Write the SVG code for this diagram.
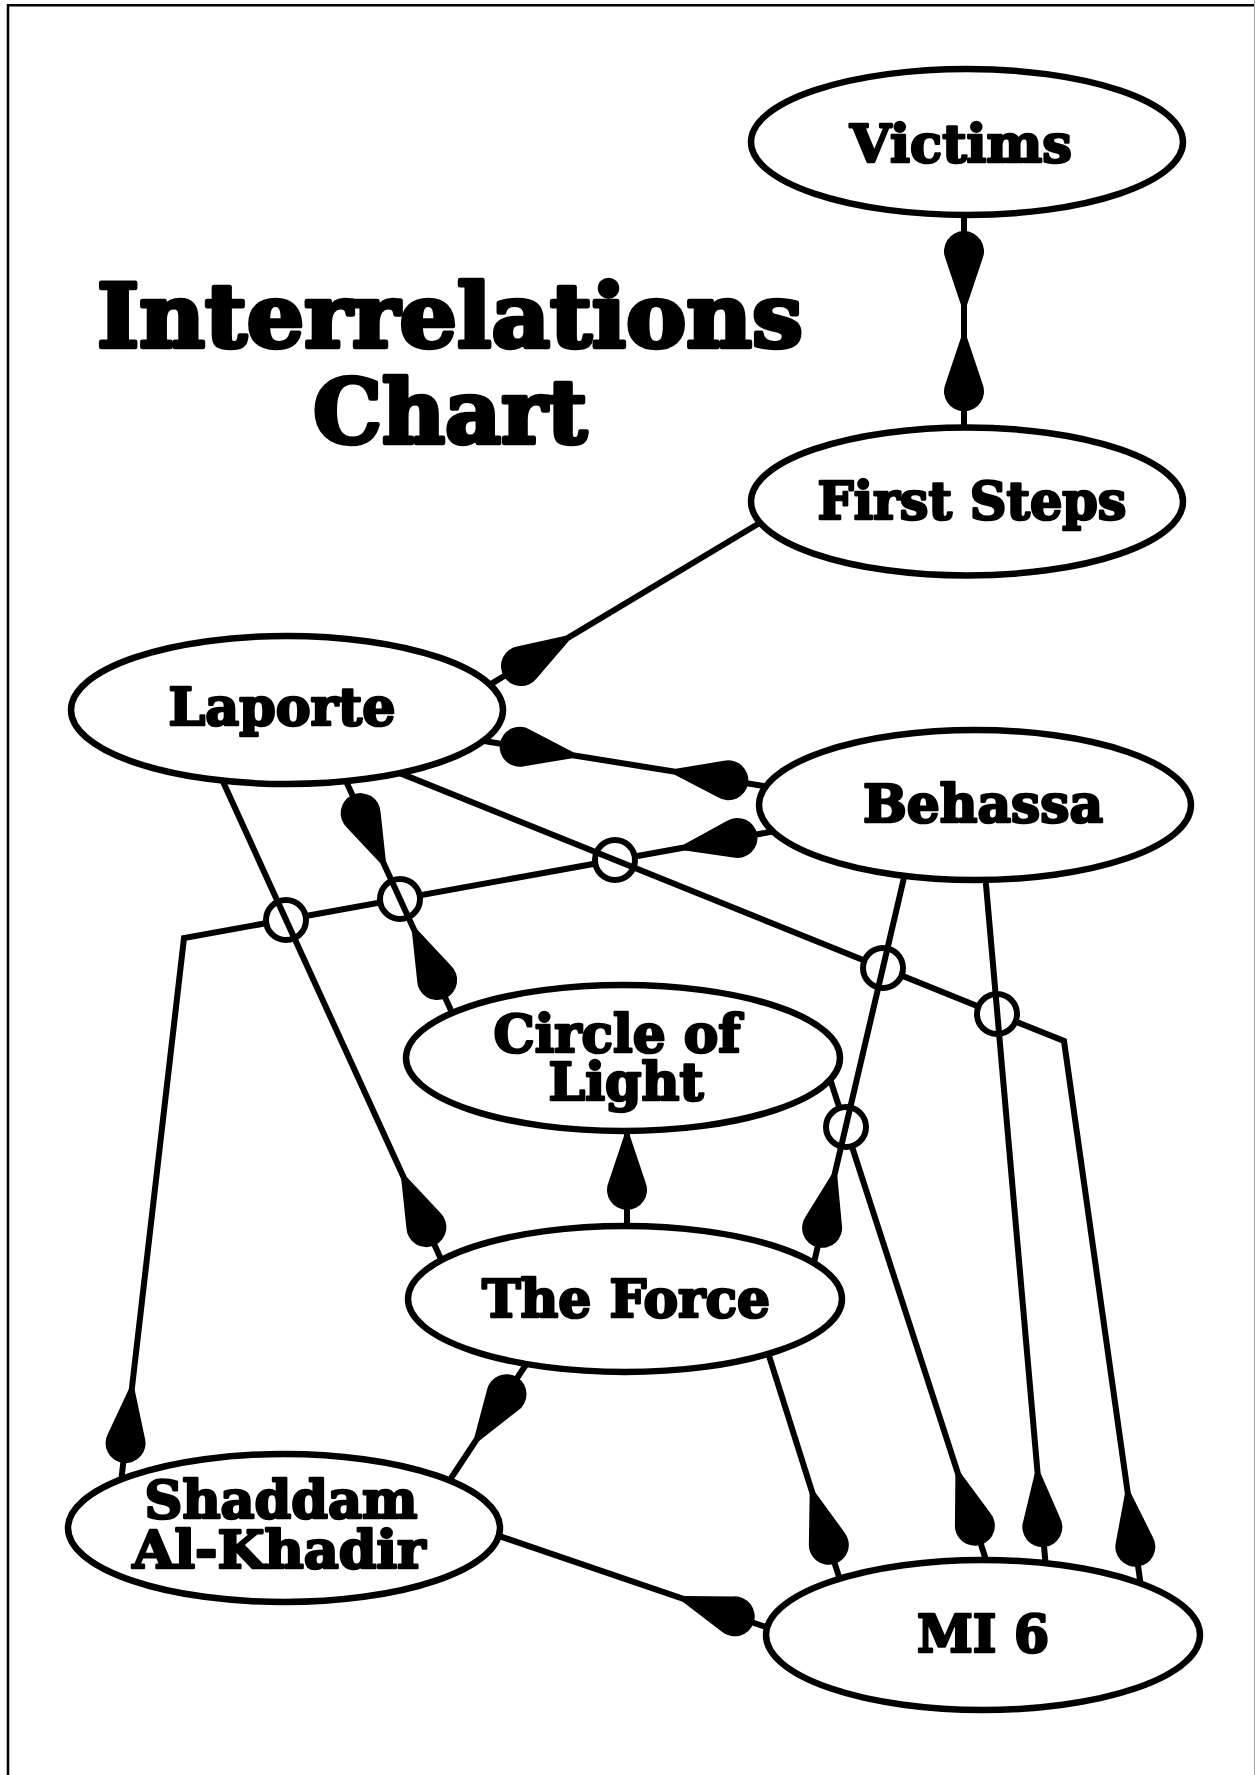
<svg xmlns="http://www.w3.org/2000/svg" width="1255" height="1775" viewBox="0 0 1255 1775">
<style>
.node ellipse{fill:#fff;stroke:#000;stroke-width:6.5}
.lbl{font-family:"DejaVu Serif","Liberation Serif",serif;font-weight:bold;font-size:52px;text-anchor:middle;fill:#000;stroke:#000;stroke-width:2.6;stroke-linejoin:round}
.title{font-family:"DejaVu Serif","Liberation Serif",serif;font-weight:bold;font-size:88px;text-anchor:middle;fill:#000;stroke:#000;stroke-width:4.5;stroke-linejoin:round}
.edge{fill:none;stroke:#000;stroke-width:6;stroke-linejoin:miter}
.one{marker-end:url(#drop)}
.two{marker-start:url(#drop);marker-end:url(#drop)}
.jump{fill:#fff;stroke:#000;stroke-width:6}
</style>
<defs>
<marker id="drop" viewBox="-56 -22 96 44" markerWidth="96" markerHeight="44" refX="36" refY="0" markerUnits="userSpaceOnUse" orient="auto-start-reverse">
<path d="M-54,-3 L-7.7,-18.5 A20,20 0 1 1 -7.7,18.5 L-54,3 Z" fill="#000"/>
</marker>
</defs>
<rect width="1255" height="1775" fill="#fff"/>
<path d="M8,1775 V5.3 H1255" fill="none" stroke="#000" stroke-width="2.5"/>
<line x1="1254.5" y1="0" x2="1254.5" y2="1775" stroke="#aaa" stroke-width="1"/>
<g id="title">
<text class="title" x="450" y="347"><tspan x="450" y="347" textLength="706" lengthAdjust="spacingAndGlyphs">Interrelations</tspan><tspan x="450" y="443" textLength="274" lengthAdjust="spacingAndGlyphs">Chart</tspan></text>
</g>
<g id="connectors">
<path class="edge two" d="M964,215 L964,427.5"/>
<path class="edge one" d="M760,522.8 L490,684.6"/>
<path class="edge two" d="M484,741 L764,786"/>
<path class="edge two" d="M773,831.5 L184,938 L121.4,1479"/>
<path class="edge one" d="M627,1131 L627,1226"/>
<path class="edge one" d="M830.3,1079.8 L986,1560"/>
<path class="edge one" d="M768.4,1353.9 L839.7,1579.2"/>
<path class="edge one" d="M449.5,1480.5 L526.4,1364"/>
<path class="edge one" d="M498.8,1535.9 L768.9,1628"/>
<circle class="jump" cx="615" cy="860" r="20"/>
<path class="edge one" d="M398,772.4 L1064,1041 L1140.4,1582.5"/>
<circle class="jump" cx="400" cy="899" r="20"/>
<circle class="jump" cx="286" cy="920" r="20"/>
<circle class="jump" cx="883" cy="968" r="20"/>
<circle class="jump" cx="997" cy="1014" r="20"/>
<circle class="jump" cx="846" cy="1127" r="20"/>
<path class="edge two" d="M345.6,780.3 L452.2,1012.9"/>
<path class="edge one" d="M222,779.6 L441.4,1260"/>
<path class="edge one" d="M904.4,875.9 L813.9,1263"/>
<path class="edge one" d="M985.6,879.9 L1045.5,1563.1"/>
</g>
<g id="victims" class="node">
<ellipse cx="967" cy="142" rx="216" ry="73"/>
<text class="lbl" x="961" y="162" textLength="222" lengthAdjust="spacingAndGlyphs">Victims</text>
</g>
<g id="first-steps" class="node">
<ellipse cx="967" cy="501.5" rx="216" ry="74"/>
<text class="lbl" x="972" y="519" textLength="309" lengthAdjust="spacingAndGlyphs">First Steps</text>
</g>
<g id="laporte" class="node">
<ellipse cx="287" cy="710" rx="216" ry="74"/>
<text class="lbl" x="282" y="725" textLength="227" lengthAdjust="spacingAndGlyphs">Laporte</text>
</g>
<g id="behassa" class="node">
<ellipse cx="975" cy="805" rx="216" ry="75"/>
<text class="lbl" x="983" y="822" textLength="240" lengthAdjust="spacingAndGlyphs">Behassa</text>
</g>
<g id="circle-of-light" class="node">
<ellipse cx="623" cy="1058" rx="217" ry="73"/>
<text class="lbl" x="617" y="1052"><tspan x="617" y="1052" textLength="247" lengthAdjust="spacingAndGlyphs">Circle of</tspan><tspan x="626" y="1100" textLength="155" lengthAdjust="spacingAndGlyphs">Light</tspan></text>
</g>
<g id="the-force" class="node">
<ellipse cx="625" cy="1299" rx="217" ry="73"/>
<text class="lbl" x="626" y="1317" textLength="288" lengthAdjust="spacingAndGlyphs">The Force</text>
</g>
<g id="shaddam" class="node">
<ellipse cx="284" cy="1528" rx="216" ry="74"/>
<text class="lbl" x="281" y="1518"><tspan x="281" y="1518" textLength="273" lengthAdjust="spacingAndGlyphs">Shaddam</tspan><tspan x="279" y="1568" textLength="293" lengthAdjust="spacingAndGlyphs">Al-Khadir</tspan></text>
</g>
<g id="mi6" class="node">
<ellipse cx="983" cy="1635" rx="217" ry="75"/>
<text class="lbl" x="983" y="1652" textLength="132" lengthAdjust="spacingAndGlyphs">MI 6</text>
</g>
</svg>
